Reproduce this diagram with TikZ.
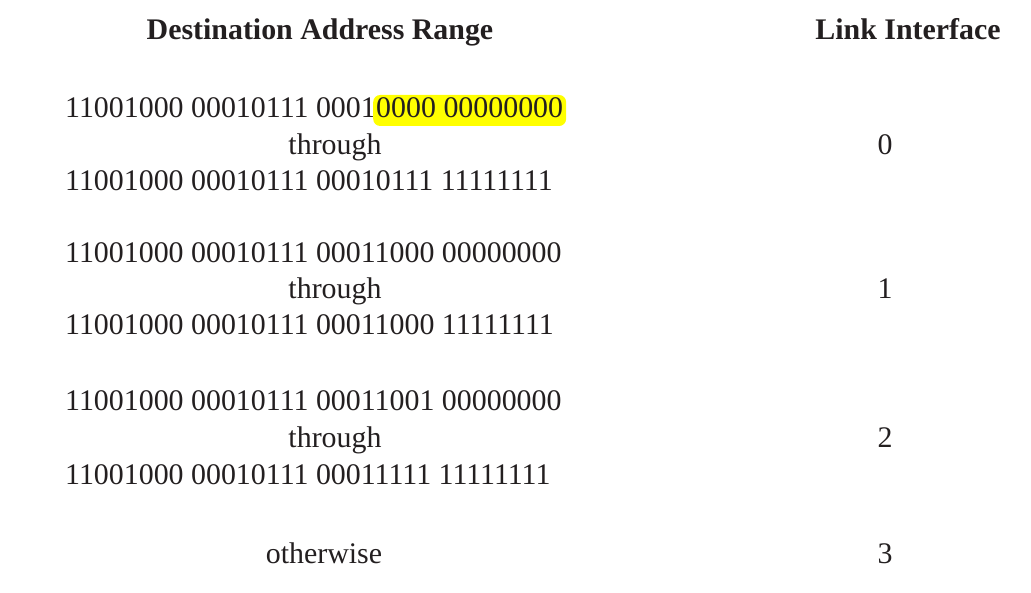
\documentclass[tikz,border=0pt]{standalone}
\usepackage{fontspec}
\setmainfont{Liberation Serif}
\definecolor{ink}{HTML}{231F20}
\definecolor{hl}{HTML}{FFFF00}
\tikzset{
  txt/.style={font=\fontsize{29.9}{32}\selectfont, text=ink, inner sep=0pt},
  head/.style={font=\fontsize{29.9}{32}\selectfont\bfseries, text=ink, inner sep=0pt},
  hlbox/.style={txt, fill=hl, rounded corners=7pt, inner xsep=3pt, inner ysep=0pt, text height=23pt, text depth=8pt}
}
\begin{document}
\begin{tikzpicture}[x=1pt,y=-1pt]
\useasboundingbox (0,0) rectangle (1031,593);
\node[head, anchor=base] (h1) at (320,40) {Destination Address Range};
\node[head, anchor=base] (h2) at (908,40) {Link Interface};
% group 0
\node[txt, anchor=base west] (a1) at (65,118) {11001000 00010111 0001};
\node[hlbox, anchor=base west, xshift=-3pt] (a1h) at (a1.base east) {0000 00000000};
\node[txt, anchor=base] (a2) at (335,155) {through};
\node[txt, anchor=base west] (a3) at (65,191) {11001000 00010111 00010111 11111111};
\node[txt, anchor=base] (i0) at (885,155) {0};
% group 1
\node[txt, anchor=base west] (b1) at (65,263) {11001000 00010111 00011000 00000000};
\node[txt, anchor=base] (b2) at (335,299) {through};
\node[txt, anchor=base west] (b3) at (65,335) {11001000 00010111 00011000 11111111};
\node[txt, anchor=base] (i1) at (885,299) {1};
% group 2
\node[txt, anchor=base west] (c1) at (65,411) {11001000 00010111 00011001 00000000};
\node[txt, anchor=base] (c2) at (335,448) {through};
\node[txt, anchor=base west] (c3) at (65,484) {11001000 00010111 00011111 11111111};
\node[txt, anchor=base] (i2) at (885,448) {2};
% otherwise
\node[txt, anchor=base] (d1) at (324,563) {otherwise};
\node[txt, anchor=base] (i3) at (885,563) {3};
\end{tikzpicture}
\end{document}
